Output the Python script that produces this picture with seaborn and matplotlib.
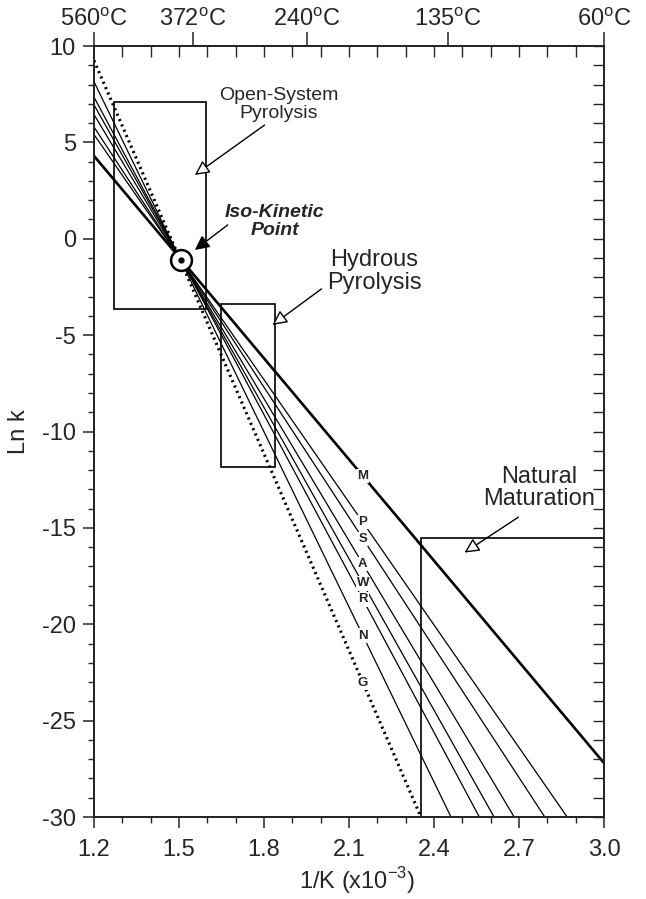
import numpy as np
import pandas as pd
import matplotlib
matplotlib.use("Agg")
import matplotlib.pyplot as plt
import matplotlib.patches as mpatches
from matplotlib.ticker import MultipleLocator, NullFormatter
import seaborn as sns

# ---------------------------------------------------------------------------
# Data
# ---------------------------------------------------------------------------
line_names = ["M", "P", "S", "A", "W", "R", "N", "G"]
lnk_left = [4.3, 5.41, 5.8, 6.45, 6.95, 7.35, 8.15, 9.25]     # ln k at 1/K = 1.2
invT_end = [3.0, 2.870, 2.791, 2.683, 2.612, 2.56, 2.46, 2.354]
lnk_end = [-27.2, -30.0, -30.0, -30.0, -30.0, -30.0, -30.0, -30.0]
invT_left = 1.2
label_invT = 2.149

iso_invT = 1.506
iso_lnk = -1.08

box_names = ["Open-System\nPyrolysis", "Hydrous\nPyrolysis", "Natural\nMaturation"]
box_x0 = [1.27, 1.65, 2.354]
box_x1 = [1.595, 1.838, 3.0]
box_y0 = [-3.65, -11.85, -30.0]
box_y1 = [7.1, -3.4, -15.5]

temps_c = [560, 372, 240, 135, 60]

_FONT = ["Liberation Sans", "DejaVu Sans"]

sns.set_style("ticks")
plt.rcParams["font.family"] = _FONT
plt.rcParams["mathtext.fontset"] = "custom"
plt.rcParams["mathtext.rm"] = "Liberation Sans"
plt.rcParams["axes.unicode_minus"] = False

rows = []
for name, y0, x1, y1 in zip(line_names, lnk_left, invT_end, lnk_end):
    rows.append({"line": name, "invT": invT_left, "lnk": y0})
    rows.append({"line": name, "invT": x1, "lnk": y1})
df = pd.DataFrame(rows)

fig = plt.figure(figsize=(6.46, 8.99), dpi=100)
ax = fig.add_axes([0.1455, 0.0912, 0.7895, 0.8576])

for name in line_names:
    sub = df[df["line"] == name]
    if name == "M":
        kw = dict(color="black", linewidth=1.9)
    elif name == "G":
        kw = dict(color="black", linewidth=2.2, linestyle=(0, (0.7, 1.2)))
    else:
        kw = dict(color="black", linewidth=0.9)
    sns.lineplot(data=sub, x="invT", y="lnk", ax=ax, estimator=None,
                 sort=False, legend=False, **kw)

# line labels sitting on the lines
for name, y0, x1, y1 in zip(line_names, lnk_left, invT_end, lnk_end):
    ylab = np.interp(label_invT, [invT_left, x1], [y0, y1])
    ax.text(label_invT, ylab, name, ha="center", va="center", fontsize=9.5,
            fontweight="bold", zorder=5,
            bbox=dict(facecolor="white", edgecolor="none", pad=0.8))

# boxes
for x0, x1, y0, y1 in zip(box_x0, box_x1, box_y0, box_y1):
    ax.add_patch(mpatches.Rectangle((x0, y0), x1 - x0, y1 - y0, fill=False,
                                    edgecolor="black", linewidth=1.2, zorder=3))

# iso-kinetic point
ax.plot([iso_invT], [iso_lnk], marker="o", markersize=15, markerfacecolor="white",
        markeredgecolor="black", markeredgewidth=1.8, zorder=6)
ax.plot([iso_invT], [iso_lnk], marker="o", markersize=3.5, color="black", zorder=7)

# annotations
arrow_kw = dict(arrowstyle="-|>", edgecolor="black", lw=1.0,
                mutation_scale=22, shrinkA=0, shrinkB=0)

ax.text(1.852, 6.98, box_names[0], ha="center", va="center", fontsize=14,
        linespacing=1.1)
ax.annotate("", xy=(1.556, 3.31), xytext=(1.802, 5.9),
            arrowprops=dict(facecolor="white", **arrow_kw))

ax.text(1.838, 0.9, "Iso-Kinetic\nPoint", ha="center", va="center", fontsize=14,
        fontweight="bold", fontstyle="italic", linespacing=1.1)
ax.annotate("", xy=(1.556, -0.58), xytext=(1.672, 0.72),
            arrowprops=dict(facecolor="black", **arrow_kw))

ax.text(2.19, -1.7, box_names[1], ha="center", va="center", fontsize=17,
        linespacing=1.05)
ax.annotate("", xy=(1.83, -4.47), xytext=(2.003, -2.6),
            arrowprops=dict(facecolor="white", **arrow_kw))

ax.text(2.771, -12.93, box_names[2], ha="center", va="center", fontsize=17,
        linespacing=1.05)
ax.annotate("", xy=(2.508, -16.28), xytext=(2.698, -14.44),
            arrowprops=dict(facecolor="white", **arrow_kw))

# axes, ticks
ax.set_xlim(1.2, 3.0)
ax.set_ylim(-30, 10)
ax.xaxis.set_minor_locator(MultipleLocator(0.1))
ax.yaxis.set_major_locator(MultipleLocator(5))
ax.yaxis.set_minor_locator(MultipleLocator(1))
xt = np.arange(1.2, 3.01, 0.3)
ax.set_xticks(xt)
ax.set_xticklabels([f"{v:.1f}" for v in xt])
ax.tick_params(axis="both", which="major", direction="out", length=8, width=1.1,
               labelsize=17, top=False, right=False)
ax.tick_params(axis="x", which="major", pad=8)
ax.tick_params(axis="y", which="major", pad=5)
ax.tick_params(axis="both", which="minor", direction="out", length=4, width=1.0,
               top=False, right=False)
for sp in ax.spines.values():
    sp.set_visible(True)
    sp.set_linewidth(1.2)
    sp.set_color("black")

ax.set_xlabel("1/K (x10$^{-3}$)", fontsize=17)
ax.xaxis.set_label_coords(0.515, -0.062)
ax.set_ylabel("Ln k", fontsize=17)
ax.yaxis.set_label_coords(-0.125, 0.5)

# right axis: inward ticks, no labels
ax_r = ax.twinx()
ax_r.set_ylim(-30, 10)
ax_r.yaxis.set_major_locator(MultipleLocator(5))
ax_r.yaxis.set_minor_locator(MultipleLocator(1))
ax_r.yaxis.set_major_formatter(NullFormatter())
ax_r.tick_params(axis="y", which="both", direction="in", length=8, width=1.0)

# top axis: temperatures outward, 1/K minor ticks inward
ax_t = ax.twiny()
ax_t.set_xlim(1.2, 3.0)
temp_pos = [round(1000.0 / (t + 273.15), 2) for t in temps_c]
ax_t.set_xticks(temp_pos)
ax_t.set_xticklabels([f"{t}$^{{\\mathrm{{o}}}}$C" for t in temps_c])
ax_t.xaxis.set_minor_locator(MultipleLocator(0.1))
ax_t.tick_params(axis="x", which="major", direction="out", length=10, width=1.1,
                 labelsize=17, pad=1)
ax_t.tick_params(axis="x", which="minor", direction="in", length=8, width=1.0)
for a in (ax_r, ax_t):
    for sp in a.spines.values():
        sp.set_linewidth(1.2)

fig.savefig("out.png", dpi=100)
